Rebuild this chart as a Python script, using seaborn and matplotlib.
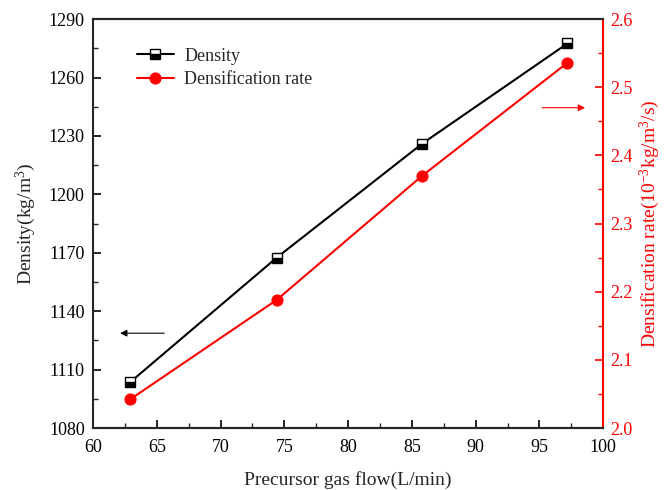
import matplotlib
matplotlib.use("Agg")
import matplotlib.pyplot as plt
import seaborn as sns
import pandas as pd
from matplotlib.ticker import MultipleLocator

gas_flow = [62.9, 74.4, 85.8, 97.2]
density = [1103.5, 1167.5, 1226.0, 1277.5]
densification_rate = [2.042, 2.188, 2.370, 2.536]

x_ticks = [60, 65, 70, 75, 80, 85, 90, 95, 100]
density_ticks = [1080, 1110, 1140, 1170, 1200, 1230, 1260, 1290]
rate_ticks = [2.0, 2.1, 2.2, 2.3, 2.4, 2.5, 2.6]

sns.set_style("ticks")
plt.rcParams['font.family'] = ['Liberation Serif', 'DejaVu Serif']
plt.rcParams['mathtext.default'] = 'regular'
plt.rcParams['xtick.direction'] = 'in'
plt.rcParams['ytick.direction'] = 'in'

df = pd.DataFrame({"flow": gas_flow, "density": density, "rate": densification_rate})

fig = plt.figure(figsize=(6.65, 4.9), dpi=100)
ax = fig.add_axes([0.140, 0.1265, 0.767, 0.8345])
ax2 = ax.twinx()

sns.lineplot(data=df, x="flow", y="density", ax=ax, color="black", lw=1.5,
             marker="s", markersize=7, fillstyle="bottom",
             markerfacecolor="black", markerfacecoloralt="white",
             markeredgecolor="black", markeredgewidth=1.0, label="Density", legend=False)
sns.lineplot(data=df, x="flow", y="rate", ax=ax2, color="red", lw=1.5,
             marker="o", markersize=8, markerfacecolor="red",
             markeredgecolor="red", label="Densification rate", legend=False)

ax.set_xlim(60, 100)
ax.set_ylim(1080, 1290)
ax2.set_ylim(2.0, 2.6)
ax.set_xticks(x_ticks)
ax.set_yticks(density_ticks)
ax2.set_yticks(rate_ticks)
ax2.set_yticklabels([f"{v:.1f}" for v in rate_ticks])
ax.xaxis.set_minor_locator(MultipleLocator(2.5))
ax.yaxis.set_minor_locator(MultipleLocator(15))
ax2.yaxis.set_minor_locator(MultipleLocator(0.05))

fs = 13
ax.tick_params(axis="both", which="major", length=6, width=1.2, labelsize=fs, colors="black")
ax.tick_params(axis="both", which="minor", length=3.5, width=1.0)
ax.tick_params(axis="x", pad=8)
ax.tick_params(axis="y", pad=6)
ax2.tick_params(axis="y", which="major", length=6, width=1.2, labelsize=fs, colors="red", pad=5)
ax2.tick_params(axis="y", which="minor", length=3.5, width=1.0, colors="red")

for s in ["left", "bottom", "top"]:
    ax.spines[s].set_linewidth(1.5)
    ax2.spines[s].set_linewidth(1.5)
ax.spines["right"].set_visible(False)
ax2.spines["right"].set_color("red")
ax2.spines["right"].set_linewidth(1.5)
ax2.spines["left"].set_visible(False)

ax.set_xlabel("Precursor gas flow(L/min)", fontsize=14, labelpad=11)
ax.set_ylabel("Density(kg/m$^3$)", fontsize=14, labelpad=8)
ax2.set_ylabel("Densification rate(10$^{-3}$kg/m$^3$/s)", fontsize=14, color="red", labelpad=4)

ax.annotate("", xy=(61.9, 1128.7), xytext=(65.8, 1128.7),
            arrowprops=dict(arrowstyle="-|>", color="black", lw=0.8, mutation_scale=10))
ax2.annotate("", xy=(98.8, 2.47), xytext=(95.0, 2.47),
             arrowprops=dict(arrowstyle="-|>", color="red", lw=0.8, mutation_scale=10))

h1, l1 = ax.get_legend_handles_labels()
h2, l2 = ax2.get_legend_handles_labels()
ax.legend(h1 + h2, l1 + l2, loc="upper left", bbox_to_anchor=(0.055, 0.97),
          frameon=False, fontsize=13, handlelength=2.0, handletextpad=0.6,
          labelspacing=0.35)

fig.savefig("out.png", dpi=100)
